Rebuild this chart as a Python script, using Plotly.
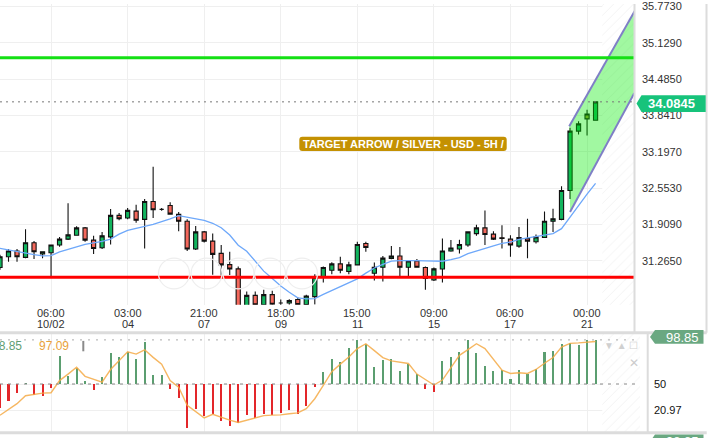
import plotly.graph_objects as go

# ---------------- data ----------------
idx = list(range(71))
opens = [31.147, 31.340, 31.440, 31.328, 31.586, 31.388, 31.410, 31.546, 31.651, 31.721,
         31.850, 31.634, 31.498, 31.691, 32.073, 32.025, 32.148, 32.002, 32.319, 32.178,
         32.248, 32.090, 31.967, 31.475, 31.779, 31.616, 31.398, 31.200, 31.124, 30.444,
         30.655, 30.488, 30.667, 30.520, 30.520, 30.580, 30.492, 30.632, 30.977, 31.100,
         31.212, 31.077, 31.194, 31.574, 31.047, 31.152, 31.310, 31.353, 31.152, 31.265,
         31.147, 30.927, 31.121, 31.440, 31.475, 31.546, 31.749, 31.850, 31.739, 31.674,
         31.651, 31.528, 31.662, 31.604, 31.679, 31.967, 32.002, 32.512, 33.566, 33.782,
         33.759]
highs = [31.375, 31.475, 31.475, 31.827, 31.616, 31.432, 31.551, 31.691, 32.289, 31.879,
         31.867, 31.709, 31.779, 32.183, 32.113, 32.201, 32.259, 32.364, 32.933, 32.201,
         32.306, 32.131, 32.002, 31.885, 31.797, 31.749, 31.546, 31.428, 31.165, 30.725,
         30.725, 30.755, 30.738, 30.580, 30.585, 30.620, 30.667, 31.029, 31.165, 31.240,
         31.340, 31.252, 31.604, 31.604, 31.235, 31.353, 31.528, 31.511, 31.270, 31.300,
         31.165, 31.147, 31.662, 31.634, 31.639, 31.788, 31.908, 32.160, 31.792, 31.897,
         31.721, 31.867, 32.013, 31.732, 32.143, 32.189, 32.587, 33.624, 33.741, 33.945,
         34.092]
lows = [31.107, 31.252, 31.252, 31.310, 31.300, 31.310, 30.971, 31.516, 31.634, 31.709,
        31.604, 31.388, 31.475, 31.556, 31.985, 32.002, 31.943, 31.486, 32.025, 32.155,
        32.083, 31.792, 31.440, 31.458, 31.591, 31.019, 31.006, 31.015, 30.286, 30.409,
        30.427, 30.444, 30.444, 30.480, 30.488, 30.462, 30.462, 30.492, 30.883, 31.029,
        31.047, 31.029, 31.182, 31.428, 30.919, 30.901, 31.296, 30.989, 30.989, 31.147,
        30.755, 30.910, 30.883, 31.428, 31.398, 31.516, 31.709, 31.546, 31.634, 31.486,
        31.340, 31.498, 31.310, 31.574, 31.674, 31.779, 31.985, 32.364, 33.506, 33.488,
        33.759]
closes = [31.340, 31.440, 31.340, 31.586, 31.428, 31.428, 31.546, 31.651, 31.727, 31.850,
          31.634, 31.486, 31.709, 32.073, 32.013, 32.160, 31.985, 32.319, 32.171, 32.178,
          32.095, 31.967, 31.475, 31.779, 31.616, 31.381, 31.194, 31.121, 30.339, 30.655,
          30.488, 30.667, 30.497, 30.520, 30.562, 30.492, 30.643, 30.971, 31.147, 31.212,
          31.100, 31.194, 31.556, 31.504, 31.152, 31.314, 31.353, 31.152, 31.265, 31.152,
          30.954, 31.124, 31.440, 31.493, 31.556, 31.779, 31.850, 31.732, 31.651, 31.662,
          31.546, 31.679, 31.616, 31.691, 31.967, 32.013, 32.512, 33.566, 33.694, 33.869,
          34.0845]
olive_idx = [69]
ma_vals = [31.489, 31.458, 31.428, 31.403, 31.377, 31.354, 31.358, 31.425, 31.463, 31.514,
           31.558, 31.584, 31.612, 31.651, 31.739, 31.806, 31.848, 31.878, 31.911, 31.955,
           32.009, 32.067, 32.043, 32.016, 31.983, 31.932, 31.853, 31.725, 31.544, 31.435,
           31.256, 31.084, 30.954, 30.820, 30.708, 30.610, 30.592, 30.597, 30.673, 30.740,
           30.812, 30.877, 30.947, 31.049, 31.140, 31.205, 31.263, 31.270, 31.275, 31.270,
           31.265, 31.258, 31.259, 31.286, 31.324, 31.395, 31.444, 31.489, 31.533, 31.575,
           31.600, 31.646, 31.672, 31.699, 31.725, 31.748, 31.837, 32.046, 32.262, 32.450,
           32.640]
hist_vals = [23.8, 30.8, 39.9, 51.0, 37.4, 36.6, 45.8, 81.3, 58.6, 67.4,
             53.8, 43.6, 58.2, 84.2, 79.5, 86.0, 77.6, 97.0, 60.4, 60.4,
             44.7, 34.8, 1.5, 22.7, 14.3, 16.5, 8.8, 3.3, 7.0, 15.4,
             11.8, 17.3, 15.4, 18.0, 20.9, 17.3, 25.3, 47.0, 62.8, 77.3,
             74.4, 90.4, 98.5, 94.0, 69.0, 77.0, 78.0, 64.3, 72.7, 61.0,
             44.1, 41.6, 75.6, 80.0, 85.9, 99.0, 84.8, 70.1, 64.6, 65.4,
             55.5, 65.4, 61.0, 66.5, 85.5, 86.6, 94.6, 95.7, 93.6, 98.85, 98.85]
signal_vals = [15.4, 22.0, 28.2, 37.0, 38.5, 39.9, 40.3, 53.8, 61.0, 68.5,
               58.5, 55.0, 52.0, 66.0, 76.0, 85.7, 83.1, 87.9, 79.5, 72.0,
               53.8, 46.5, 26.4, 19.0, 12.5, 16.5, 12.9, 10.0, 7.4, 10.0,
               12.9, 15.0, 15.5, 15.8, 17.0, 18.0, 22.7, 33.7, 48.4, 63.7,
               72.0, 80.0, 89.3, 94.6, 87.0, 79.3, 75.6, 74.0, 72.7, 61.0,
               55.0, 48.9, 54.4, 68.0, 81.8, 88.0, 94.6, 89.2, 77.0, 65.4,
               61.7, 62.4, 61.7, 66.1, 73.0, 79.3, 91.0, 95.0, 95.5, 96.3, 97.09]
tick_idx = [6, 15, 24, 33, 42, 51, 60, 69]
tick_time = ["06:00", "03:00", "21:00", "18:00", "15:00", "09:00", "06:00", "00:00"]
tick_date = ["10/02", "04", "07", "09", "11", "15", "17", "21"]
price_ticks = [35.7730, 35.1290, 34.4850, 33.8410, 33.1970, 32.5530, 31.9090, 31.2650]
osc_ticks = [50, 20.97]
resistance = 34.865
support = 30.977
last_price = 34.0845
hist_last = 98.85
signal_last = 97.09
chan_upper_x = [66.91, 74.63]
chan_upper_y = [33.653, 35.701]
chan_lower_x = [67.0, 74.55]
chan_lower_y = [32.131, 34.238]
future_start = 70.79
title_text = "TARGET ARROW / SILVER - USD - 5H /"

# ---------------- geometry helpers ----------------
W, H = 711, 438
MR = 71
PW = W - MR            # paper width in px
PX = 8.508             # px per candle


def px(x):
    return x / PW


def py(y):
    return 1 - y / H


MAIN_TOP, MAIN_BOT = 0, 303.5
OSC_TOP, OSC_BOT = 332.7, 432.7
main_xr = [0, 634 / PX]
osc_xr = [0, PW / PX]
main_yr = [35.819 - 0.017564 * MAIN_BOT, 35.819]
osc_yr = [-4.0, 105.76]

GREEN = "#12b45e"
RED = "#f4685c"
FONT = "Liberation Sans, Arial, sans-serif"

fig = go.Figure()

# hatched future area (main)
fig.add_trace(go.Scatter(
    x=[future_start, 80, 80, future_start], y=[29, 29, 37, 37], fill="toself",
    mode="none", fillcolor="rgba(0,0,0,0)",
    fillpattern=dict(shape="/", fgcolor="#e2e2e2", bgcolor="white", size=7, solidity=0.12),
    hoverinfo="skip", xaxis="x", yaxis="y"))

# channel fill
fig.add_trace(go.Scatter(
    x=chan_upper_x + chan_lower_x[::-1], y=chan_upper_y + chan_lower_y[::-1],
    fill="toself", mode="none", fillcolor="rgba(0,235,0,0.37)", hoverinfo="skip"))
fig.add_trace(go.Scatter(x=chan_upper_x, y=chan_upper_y, mode="lines",
                         line=dict(color="#7f7fc6", width=2), hoverinfo="skip"))
fig.add_trace(go.Scatter(x=chan_lower_x, y=chan_lower_y, mode="lines",
                         line=dict(color="#7f7fc6", width=2), hoverinfo="skip"))

# moving average
fig.add_trace(go.Scatter(x=idx, y=ma_vals, mode="lines",
                         line=dict(color="#6ea8fa", width=1.3), hoverinfo="skip"))

# candles
main_i = [i for i in idx if i not in olive_idx]
fig.add_trace(go.Candlestick(
    x=main_i, open=[opens[i] for i in main_i], high=[highs[i] for i in main_i],
    low=[lows[i] for i in main_i], close=[closes[i] for i in main_i],
    increasing=dict(fillcolor=GREEN, line=dict(color="#111111", width=1.1)),
    decreasing=dict(fillcolor=RED, line=dict(color="#111111", width=1.1)),
    whiskerwidth=0, hoverinfo="skip"))
fig.add_trace(go.Candlestick(
    x=olive_idx, open=[opens[i] for i in olive_idx], high=[highs[i] for i in olive_idx],
    low=[lows[i] for i in olive_idx], close=[closes[i] for i in olive_idx],
    increasing=dict(fillcolor="#9a9a30", line=dict(color="#111111", width=1.1)),
    decreasing=dict(fillcolor="#9a9a30", line=dict(color="#111111", width=1.1)),
    whiskerwidth=0, hoverinfo="skip"))

# oscillator hatch
fig.add_trace(go.Scatter(
    x=[future_start, 80, 80, future_start], y=[-20, -20, 130, 130], fill="toself",
    mode="none", fillcolor="rgba(0,0,0,0)",
    fillpattern=dict(shape="/", fgcolor="#e2e2e2", bgcolor="white", size=7, solidity=0.12),
    hoverinfo="skip", xaxis="x2", yaxis="y2"))

# oscillator histogram
fig.add_trace(go.Bar(
    x=idx, y=[v - 50 for v in hist_vals], base=50, width=0.24,
    marker=dict(color=["#5b9e70" if v >= 50 else "#e3262a" for v in hist_vals], line=dict(width=0)),
    hoverinfo="skip", xaxis="x2", yaxis="y2"))
fig.add_trace(go.Scatter(x=idx, y=signal_vals, mode="lines",
                         line=dict(color="rgba(245,170,70,0.85)", width=1.4),
                         hoverinfo="skip", xaxis="x2", yaxis="y2"))

shapes = []
# horizontal levels
shapes.append(dict(type="line", xref="x domain", yref="y", x0=0, x1=1, y0=resistance, y1=resistance,
                   line=dict(color="#14e014", width=3)))
shapes.append(dict(type="line", xref="x domain", yref="y", x0=0, x1=1, y0=support, y1=support,
                   line=dict(color="#ff0000", width=3)))
shapes.append(dict(type="line", xref="x domain", yref="y", x0=0, x1=1, y0=last_price, y1=last_price,
                   line=dict(color="#777777", width=1, dash="2px,4px")))
# oscillator levels
shapes.append(dict(type="line", xref="x2 domain", yref="y2", x0=0, x1=1, y0=50, y1=50,
                   line=dict(color="#888888", width=1, dash="3px,5px")))
shapes.append(dict(type="line", xref="x2 domain", yref="y2", x0=0, x1=1, y0=hist_last, y1=hist_last,
                   line=dict(color="#aaaaaa", width=1, dash="2px,6px")))
# panel separators / borders
sep = "#dcdcdc"
shapes.append(dict(type="line", xref="paper", yref="paper", x0=px(0), x1=px(706.7),
                   y0=py(331.7), y1=py(331.7), line=dict(color=sep, width=3)))
shapes.append(dict(type="line", xref="paper", yref="paper", x0=px(0), x1=px(706.7),
                   y0=py(432.7), y1=py(432.7), line=dict(color=sep, width=3)))
for xv in (634.5, 706.5):
    shapes.append(dict(type="line", xref="paper", yref="paper", x0=px(xv), x1=px(xv),
                       y0=py(0), y1=py(331.7), line=dict(color=sep, width=2)))
shapes.append(dict(type="line", xref="paper", yref="paper", x0=px(647.7), x1=px(647.7),
                   y0=py(331.7), y1=py(432.7), line=dict(color=sep, width=2)))
# faint navigation circles
for cx in (174, 206.5, 238.5, 270, 302):
    shapes.append(dict(type="circle", xref="paper", yref="paper",
                       x0=px(cx - 15.5), x1=px(cx + 15.5), y0=py(287.5), y1=py(256.5),
                       line=dict(color="#eeeeee", width=1.2), layer="above"))


# last price tags
def tag_path(x0, x1, y0, y1):
    ym = (y0 + y1) / 2
    return (f"M {px(x0)} {py(ym)} L {px(x0 + 5)} {py(y0)} L {px(x1)} {py(y0)} "
            f"L {px(x1)} {py(y1)} L {px(x0 + 5)} {py(y1)} Z")


shapes.append(dict(type="path", xref="paper", yref="paper", path=tag_path(636.5, 705.7, 92.0, 109.0),
                   fillcolor="#17c37b", line=dict(width=0)))
shapes.append(dict(type="path", xref="paper", yref="paper", path=tag_path(650, 703.5, 329.0, 343.0),
                   fillcolor="#6aa881", line=dict(width=0)))
shapes.append(dict(type="path", xref="paper", yref="paper", path=tag_path(650, 703.5, 434.5, 449.0),
                   fillcolor="#6aa881", line=dict(width=0)))
# title box (rounded)
bx0, bx1, by0, by1, r = 299.3, 506.7, 134.0, 148.3, 3
shapes.append(dict(type="path", xref="paper", yref="paper", fillcolor="#c49102", line=dict(width=0),
                   path=(f"M {px(bx0 + r)} {py(by0)} L {px(bx1 - r)} {py(by0)} "
                         f"Q {px(bx1)} {py(by0)} {px(bx1)} {py(by0 + r)} L {px(bx1)} {py(by1 - r)} "
                         f"Q {px(bx1)} {py(by1)} {px(bx1 - r)} {py(by1)} L {px(bx0 + r)} {py(by1)} "
                         f"Q {px(bx0)} {py(by1)} {px(bx0)} {py(by1 - r)} L {px(bx0)} {py(by0 + r)} "
                         f"Q {px(bx0)} {py(by0)} {px(bx0 + r)} {py(by0)} Z")))
# gray marker in oscillator legend
shapes.append(dict(type="line", xref="paper", yref="paper", x0=px(83.3), x1=px(83.3),
                   y0=py(340), y1=py(350.5), line=dict(color="#8a8a8a", width=2)))

annotations = []
for ti, tt, td in zip(tick_idx, tick_time, tick_date):
    annotations.append(dict(x=ti, xref="x", y=py(312.3), yref="paper", text=tt, showarrow=False,
                            font=dict(size=11, color="#333333"), yanchor="middle"))
    annotations.append(dict(x=ti, xref="x", y=py(323.0), yref="paper", text=td, showarrow=False,
                            font=dict(size=11, color="#333333"), yanchor="middle"))
annotations.append(dict(x=px(671), y=py(100.5), xref="paper", yref="paper", text=f"<b>{last_price:.4f}</b>",
                        showarrow=False, font=dict(size=13, color="white"), xanchor="center", yanchor="middle"))
annotations.append(dict(x=px(701), y=py(336.7), xref="paper", yref="paper", text=f"{hist_last:.2f}",
                        showarrow=False, font=dict(size=13, color="white"), xanchor="right", yanchor="middle"))
annotations.append(dict(x=px(701), y=py(441.5), xref="paper", yref="paper", text=f"{hist_last:.2f}",
                        showarrow=False, font=dict(size=13, color="white"), xanchor="right", yanchor="middle"))
annotations.append(dict(x=px(403), y=py(141.2), xref="paper", yref="paper", text=f"<b>{title_text}</b>",
                        showarrow=False, font=dict(size=11, color="white"), xanchor="center", yanchor="middle"))
annotations.append(dict(x=px(24), y=py(345.3), xref="paper", yref="paper", text=f"{hist_last:.2f}",
                        showarrow=False, font=dict(size=12, color="#5f9e74"), xanchor="right", yanchor="middle"))
annotations.append(dict(x=px(36.5), y=py(345.3), xref="paper", yref="paper", text=f"{signal_last:.2f}",
                        showarrow=False, font=dict(size=12, color="#e9a23b"), xanchor="left", yanchor="middle"))
# oscillator panel icons
annotations.append(dict(x=px(621), y=py(345), xref="paper", yref="paper", text="▼ ▲ ☐",
                        showarrow=False, font=dict(size=10, color="#d0d0d0"), xanchor="center", yanchor="middle"))
annotations.append(dict(x=px(634), y=py(362), xref="paper", yref="paper", text="✕",
                        showarrow=False, font=dict(size=12, color="#cccccc"), xanchor="center", yanchor="middle"))

grid = "#efefef"
fig.update_layout(
    width=W, height=H, margin=dict(l=0, r=MR, t=0, b=0, pad=0),
    paper_bgcolor="white", plot_bgcolor="white", showlegend=False,
    font=dict(family=FONT, size=11, color="#333333"),
    shapes=shapes, annotations=annotations, bargap=0,
    xaxis=dict(domain=[0, 634 / PW], range=main_xr, tickvals=tick_idx, showticklabels=False,
               showgrid=True, gridcolor=grid, zeroline=False, showline=False, ticks="",
               rangeslider=dict(visible=False), fixedrange=True, anchor="y"),
    yaxis=dict(domain=[py(MAIN_BOT), py(MAIN_TOP)], range=main_yr, side="right",
               tickvals=price_ticks, ticktext=[f"{v:.4f}" for v in price_ticks],
               showgrid=True, gridcolor=grid, zeroline=False, showline=False, ticks="",
               ticklabelstandoff=7, ticklabeloverflow="allow",
               tickfont=dict(size=11, color="#333333"), fixedrange=True, anchor="x"),
    xaxis2=dict(domain=[0, 1], range=osc_xr, tickvals=tick_idx, showticklabels=False,
                showgrid=True, gridcolor=grid, zeroline=False, showline=False, ticks="",
                fixedrange=True, anchor="y2"),
    yaxis2=dict(domain=[py(OSC_BOT), py(OSC_TOP)], range=osc_yr, side="right",
                tickvals=osc_ticks, ticktext=["50", "20.97"], showgrid=True, gridcolor=grid,
                zeroline=False, showline=False, ticks="", ticklabelstandoff=13,
                tickfont=dict(size=11, color="#111111"), fixedrange=True, anchor="x2"),
)

fig.write_html("out.html", config=dict(displayModeBar=False, staticPlot=True))
